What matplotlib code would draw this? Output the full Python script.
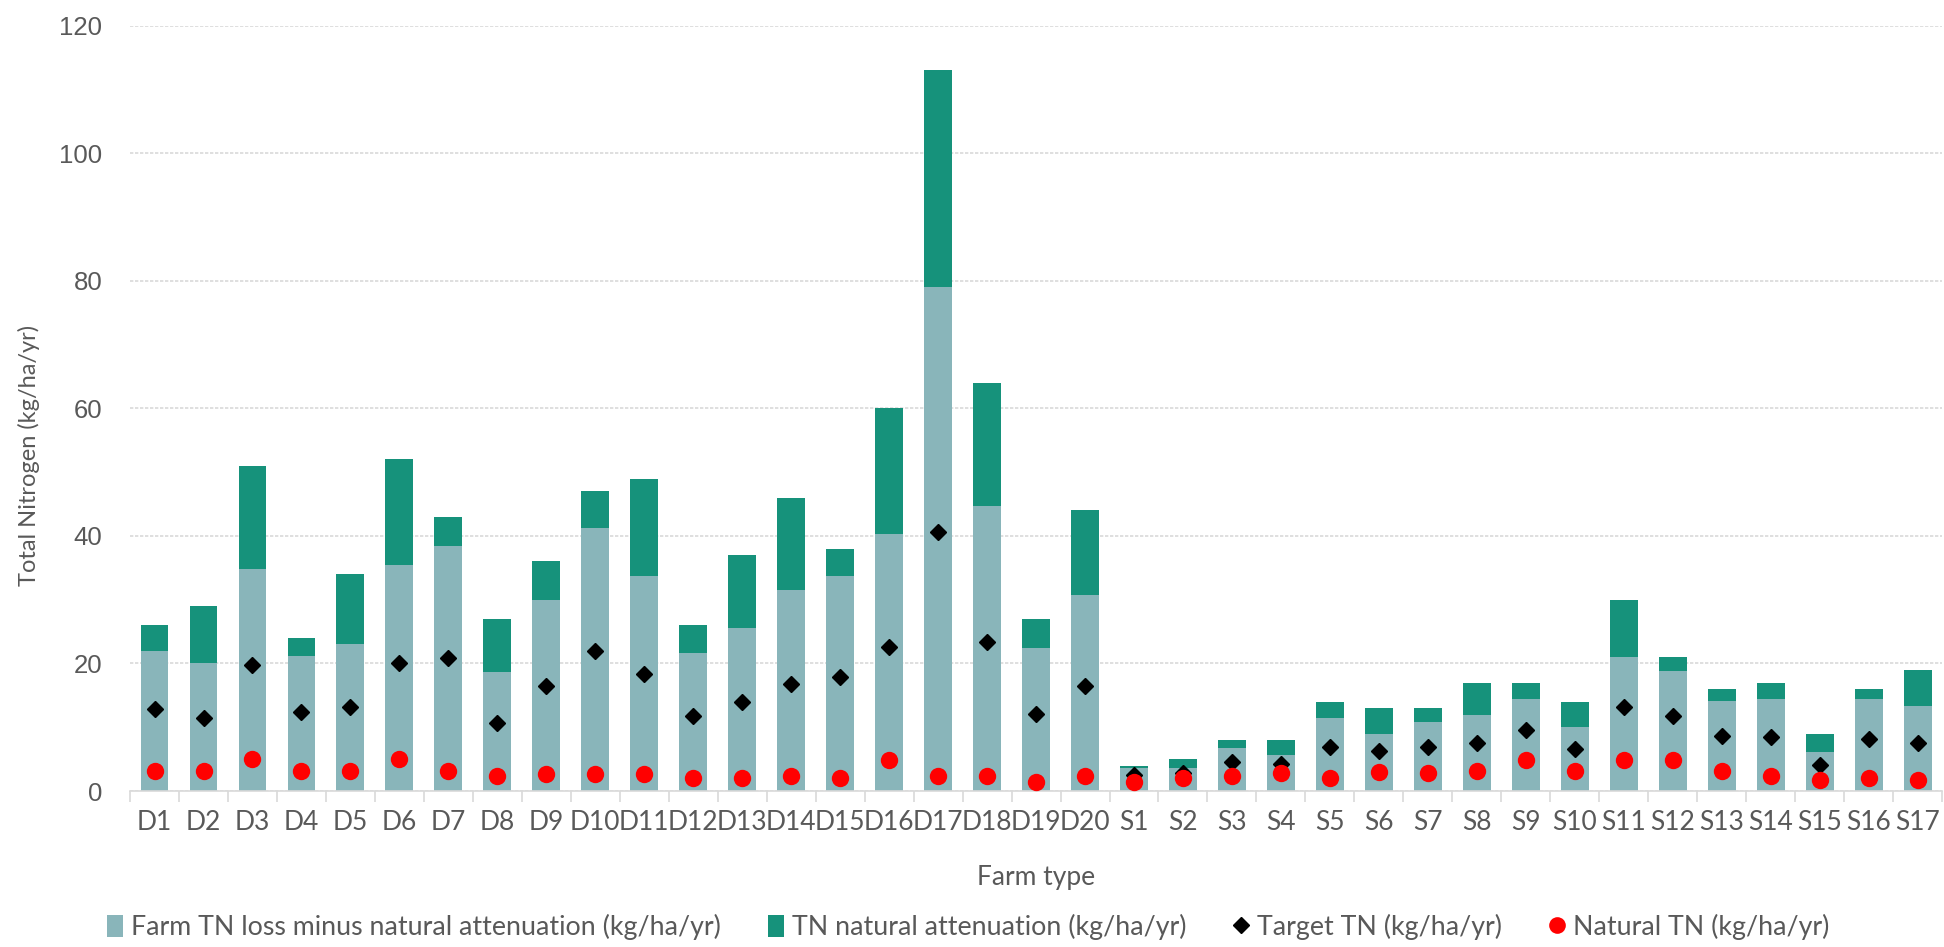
import numpy as np
import matplotlib
matplotlib.use("Agg")
import matplotlib.pyplot as plt
from matplotlib.patches import Patch
from matplotlib.lines import Line2D

farms = ["D1", "D2", "D3", "D4", "D5", "D6", "D7", "D8", "D9", "D10",
         "D11", "D12", "D13", "D14", "D15", "D16", "D17", "D18", "D19", "D20",
         "S1", "S2", "S3", "S4", "S5", "S6", "S7", "S8", "S9", "S10",
         "S11", "S12", "S13", "S14", "S15", "S16", "S17"]

# Farm TN loss minus natural attenuation (kg/ha/yr)
farm_loss_net = [22.0, 20.0, 34.8, 21.2, 23.1, 35.5, 38.4, 18.7, 30.0, 41.3,
                 33.7, 21.6, 25.6, 31.5, 33.7, 40.3, 79.0, 44.7, 22.4, 30.8,
                 3.6, 3.6, 6.8, 5.7, 11.5, 9.0, 10.8, 11.9, 14.4, 10.1,
                 21.0, 18.8, 14.1, 14.4, 6.1, 14.4, 13.4]

# TN natural attenuation (kg/ha/yr)
natural_attenuation = [4.0, 9.0, 16.2, 2.8, 10.9, 16.5, 4.6, 8.3, 6.0, 5.7,
                       15.3, 4.4, 11.4, 14.5, 4.3, 19.7, 34.0, 19.3, 4.6, 13.2,
                       0.4, 1.4, 1.2, 2.3, 2.5, 4.0, 2.2, 5.1, 2.6, 3.9,
                       9.0, 2.2, 1.9, 2.6, 2.9, 1.6, 5.6]

# Target TN (kg/ha/yr)
target_tn = [12.8, 11.4, 19.8, 12.4, 13.2, 20.1, 20.9, 10.7, 16.5, 21.9,
             18.3, 11.7, 13.9, 16.8, 17.9, 22.6, 40.6, 23.4, 12.1, 16.5,
             2.5, 2.8, 4.5, 4.2, 6.9, 6.2, 6.9, 7.6, 9.5, 6.6,
             13.1, 11.7, 8.7, 8.4, 4.1, 8.1, 7.6]

# Natural TN (kg/ha/yr)
natural_tn = [3.1, 3.1, 5.0, 3.1, 3.1, 5.0, 3.1, 2.4, 2.7, 2.7,
              2.6, 2.1, 2.1, 2.4, 2.1, 4.9, 2.4, 2.4, 1.4, 2.4,
              1.4, 2.1, 2.4, 2.8, 2.0, 3.0, 2.8, 3.1, 4.8, 3.1,
              4.9, 4.9, 3.1, 2.4, 1.8, 2.1, 1.8]

y_ticks = [0, 20, 40, 60, 80, 100, 120]

LIGHT = "#89B5BA"
DARK = "#16927B"
TEXT = "#595959"
NARROW = ["Liberation Sans Narrow", "Lato", "DejaVu Sans"]

fig = plt.figure(figsize=(19.44, 9.47), dpi=100)
ax = fig.add_axes([0.0669, 0.1647, 0.9321, 0.8082])

x = np.arange(len(farms))
ax.bar(x, farm_loss_net, width=0.57, color=LIGHT, zorder=2)
ax.bar(x, natural_attenuation, width=0.57, bottom=farm_loss_net, color=DARK, zorder=2)
ax.plot(x, target_tn, linestyle="none", marker="D", markersize=8.5,
        color="black", zorder=3)
ax.plot(x, natural_tn, linestyle="none", marker="o", markersize=12.5,
        color="#FF0000", markeredgewidth=0, zorder=4)

ax.set_xlim(-0.5, len(farms) - 0.5)
ax.set_ylim(0, 120)
ax.set_yticks(y_ticks)
ax.yaxis.grid(True, color="#D9D9D9", linewidth=1.2, linestyle=(0, (2, 1)), zorder=0)
ax.set_axisbelow(True)

for side in ("top", "right", "left"):
    ax.spines[side].set_visible(False)
ax.spines["bottom"].set_color("#D9D9D9")
ax.spines["bottom"].set_linewidth(1.2)

ax.set_xticks(x)
ax.set_xticklabels(farms, fontfamily=NARROW, fontsize=19, color=TEXT)
ax.set_xticks(np.arange(-0.5, len(farms)), minor=True)
ax.tick_params(axis="x", which="major", length=0, pad=14)
ax.tick_params(axis="x", which="minor", length=8, color="#D9D9D9", width=1.2)
ax.tick_params(axis="y", length=0, pad=20, labelsize=18.5, labelcolor=TEXT)
for lab in ax.get_yticklabels():
    lab.set_fontfamily("Liberation Sans")

ax.set_ylabel("Total Nitrogen (kg/ha/yr)", fontfamily=NARROW, fontsize=17,
              color=TEXT)
ax.yaxis.set_label_coords(-0.0497, 0.438)
ax.set_xlabel("Farm type", fontfamily=NARROW, fontsize=19, color=TEXT, labelpad=21)

handles = [
    Patch(facecolor=LIGHT, edgecolor="none"),
    Patch(facecolor=DARK, edgecolor="none"),
    Line2D([], [], linestyle="none", marker="D", markersize=8, color="black"),
    Line2D([], [], linestyle="none", marker="o", markersize=12, color="#FF0000",
           markeredgewidth=0),
]
labels = [
    "Farm TN loss minus natural attenuation (kg/ha/yr)",
    "TN natural attenuation (kg/ha/yr)",
    "Target TN (kg/ha/yr)",
    "Natural TN (kg/ha/yr)",
]
fig.legend(handles, labels, loc="center", bbox_to_anchor=(0.498, 0.021), ncol=4,
           frameon=False, prop={"family": NARROW, "size": 19.3},
           labelcolor=TEXT, handlelength=0.6, handleheight=0.9,
           handletextpad=0.3, columnspacing=1.75)

fig.savefig("out.png", dpi=100)
